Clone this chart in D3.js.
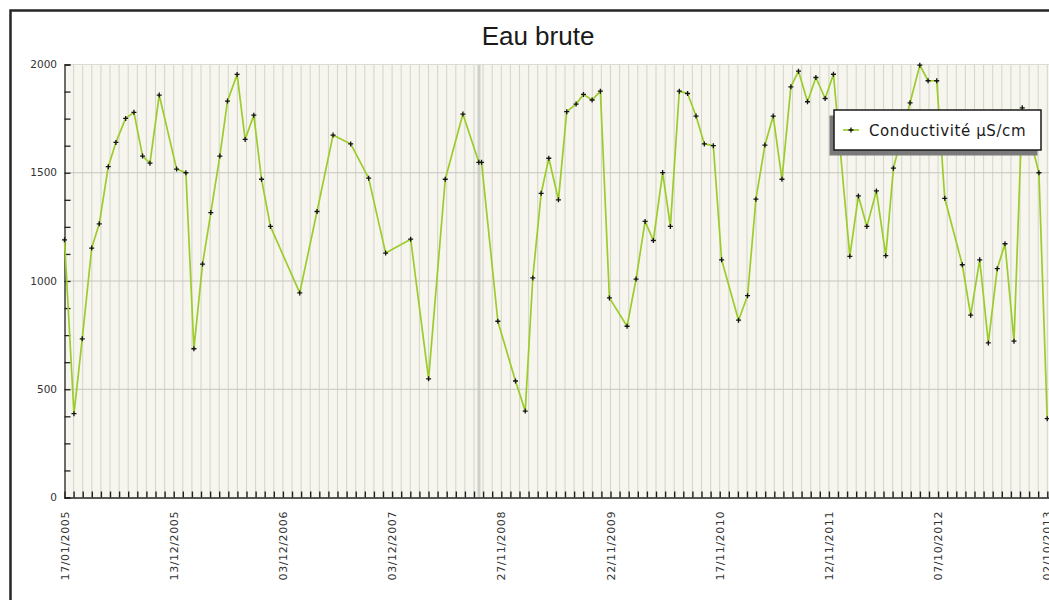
<!DOCTYPE html>
<html>
<head>
<meta charset="utf-8">
<script src="https://cdn.jsdelivr.net/npm/d3@7"></script>
<style>
  html, body { margin: 0; padding: 0; background: #ffffff; overflow: hidden; }
  svg { display: block; }
</style>
</head>
<body>
<svg id="chart" width="1049" height="600"></svg>
<script>
// ---- data -------------------------------------------------------------
const chartTitle = "Eau brute";
const seriesName = "Conductivité µS/cm";

// time of each sample, in months since the first sample (17/01/2005)
const sampleMonth = [
  0.00, 1.04, 1.95, 2.99, 3.82, 4.81, 5.65, 6.72, 7.63, 8.58, 9.39, 10.41,
  12.32, 13.34, 14.22, 15.17, 16.08, 17.07, 17.91, 18.97, 19.85, 20.80, 21.65, 22.63,
  25.85, 27.75, 29.51, 31.45, 33.42, 35.29, 38.04, 40.01, 41.84, 43.78, 45.53, 45.83,
  47.62, 49.56, 50.63, 51.46, 52.38, 53.22, 54.28, 55.19, 56.22, 57.03, 57.98, 58.89,
  59.88, 61.82, 62.81, 63.80, 64.71, 65.73, 66.58, 67.56, 68.47, 69.40, 70.31, 71.30,
  72.21, 74.07, 75.06, 75.98, 76.97, 77.88, 78.84, 79.82, 80.66, 81.65, 82.57, 83.59,
  84.50, 86.30, 87.24, 88.17, 89.22, 90.25, 91.09, 92.92, 93.99, 94.90, 95.85, 96.73,
  98.66, 99.58, 100.57, 101.52, 102.50, 103.35, 104.34, 105.25, 107.08, 107.99
];

// conductivity (µS/cm) of each sample
const conductivity = [
  1190, 387, 733, 1152, 1264, 1528, 1640, 1751, 1779, 1577, 1544, 1859,
  1517, 1500, 687, 1078, 1316, 1577, 1831, 1954, 1654, 1766, 1470, 1252,
  945, 1321, 1674, 1633, 1475, 1129, 1193, 548, 1470, 1771, 1548, 1548,
  814, 538, 399, 1014, 1405, 1567, 1375, 1782, 1817, 1862, 1836, 1877,
  922, 791, 1009, 1275, 1187, 1501, 1252, 1877, 1866, 1762, 1633, 1625,
  1098, 819, 932, 1378, 1628, 1762, 1470, 1897, 1969, 1828, 1940, 1843,
  1955, 1114, 1393, 1252, 1416, 1117, 1521, 1823, 1997, 1925, 1925, 1382,
  1075, 842, 1098, 714, 1057, 1172, 722, 1800, 1500, 364
];

// date labels written under every 12th monthly tick
const dateLabels = [
  "17/01/2005", "13/12/2005", "03/12/2006", "03/12/2007", "27/11/2008",
  "22/11/2009", "17/11/2010", "12/11/2011", "07/10/2012", "02/10/2013"
];
const monthsPerLabel = 12;
const monthCount = 109.5;

// value axis
const yDomain = [0, 2000];
const yLabelValues = [0, 500, 1000, 1500, 2000];
const yMinorStep = 125;

// month at which the double sample sits (drawn as a heavier rule)
const heavyRuleMonths = [45.55];

// ---- layout -----------------------------------------------------------
const plot = { left: 64.5, top: 64.5, bottom: 497.5, monthWidth: 9.1 };
const svg = d3.select("#chart");

const x = d3.scaleLinear()
  .domain([0, monthCount])
  .range([plot.left, plot.left + monthCount * plot.monthWidth]);
const y = d3.scaleLinear().domain(yDomain).range([plot.bottom, plot.top]);

const plotRight = x(monthCount);

// outer frame of the chart
svg.append("rect")
  .attr("x", 10.5).attr("y", 10.5)
  .attr("width", 1080).attr("height", 640)
  .attr("fill", "#ffffff")
  .attr("stroke", "#262626").attr("stroke-width", 2.5);

// title
svg.append("text")
  .attr("x", 538).attr("y", 45)
  .attr("text-anchor", "middle")
  .attr("font-family", "Liberation Sans, Arial, sans-serif")
  .attr("font-size", 26)
  .attr("fill", "#1a1a1a")
  .text(chartTitle);

// plot background
svg.append("rect")
  .attr("x", plot.left).attr("y", plot.top)
  .attr("width", plotRight - plot.left)
  .attr("height", plot.bottom - plot.top)
  .attr("fill", "#f6f6ef");

// vertical monthly grid
const monthTicks = d3.range(1, Math.floor(monthCount) + 1);
svg.append("g")
  .selectAll("line")
  .data(monthTicks)
  .join("line")
  .attr("x1", d => x(d)).attr("x2", d => x(d))
  .attr("y1", plot.top).attr("y2", plot.bottom)
  .attr("stroke", "#d6d6cf").attr("stroke-width", 1.1);

svg.append("g")
  .selectAll("line")
  .data(heavyRuleMonths)
  .join("line")
  .attr("x1", d => x(d)).attr("x2", d => x(d))
  .attr("y1", plot.top).attr("y2", plot.bottom)
  .attr("stroke", "#cfcfcb").attr("stroke-width", 3);

// horizontal grid
svg.append("g")
  .selectAll("line")
  .data(yLabelValues.filter(v => v > 0))
  .join("line")
  .attr("x1", plot.left).attr("x2", plotRight)
  .attr("y1", d => y(d)).attr("y2", d => y(d))
  .attr("stroke", d => d === yDomain[1] ? "#dcdcd6" : "#c6c6c0")
  .attr("stroke-width", 1.2);

// y axis: line, inward ticks every 125, labels every 500
const yAxis = d3.axisRight(y)
  .tickValues(d3.range(yDomain[0], yDomain[1] + 1, yMinorStep))
  .tickSize(6)
  .tickFormat("");
const yg = svg.append("g").attr("transform", `translate(${plot.left},0)`).call(yAxis);
yg.select(".domain").attr("stroke", "#222").attr("stroke-width", 1.3);
yg.selectAll(".tick line").attr("stroke", "#222").attr("stroke-width", 1.3);

svg.append("g")
  .selectAll("text")
  .data(yLabelValues)
  .join("text")
  .attr("x", 57)
  .attr("y", d => y(d) + 3.5)
  .attr("text-anchor", "end")
  .attr("font-family", "DejaVu Sans, sans-serif")
  .attr("font-size", 10.5)
  .attr("fill", "#333")
  .text(d => d);

// x axis: line, inward tick on every month
const xAxis = d3.axisTop(x)
  .tickValues(monthTicks)
  .tickSize(6)
  .tickFormat("");
const xg = svg.append("g").attr("transform", `translate(0,${plot.bottom})`).call(xAxis);
xg.select(".domain").attr("stroke", "#222").attr("stroke-width", 1.3);
xg.selectAll(".tick line").attr("stroke", "#1e1e1e").attr("stroke-width", 1.4);

// rotated date labels
svg.append("g")
  .selectAll("text")
  .data(dateLabels)
  .join("text")
  .attr("transform", (d, i) => `translate(${x(i * monthsPerLabel) + 4},511) rotate(-90)`)
  .attr("text-anchor", "end")
  .attr("font-family", "DejaVu Sans, sans-serif")
  .attr("font-size", 11)
  .attr("letter-spacing", 0.6)
  .attr("fill", "#333")
  .text(d => d);

// conductivity series
const points = sampleMonth.map((m, i) => ({ m, v: conductivity[i] }));
const line = d3.line().x(d => x(d.m)).y(d => y(d.v));

svg.append("path")
  .datum(points)
  .attr("d", line)
  .attr("fill", "none")
  .attr("stroke", "#9ccc2c")
  .attr("stroke-width", 1.7)
  .attr("stroke-linejoin", "round");

const cross = d3.symbol().type(d3.symbolCross).size(14);
svg.append("g")
  .selectAll("path")
  .data(points)
  .join("path")
  .attr("transform", d => `translate(${x(d.m)},${y(d.v)})`)
  .attr("d", "M-2.5,0H2.5M0,-2.5V2.5")
  .attr("stroke", "#141414")
  .attr("stroke-width", 1.3)
  .attr("fill", "none");

// legend
const lg = svg.append("g").attr("transform", "translate(834,110)");
lg.append("rect")
  .attr("x", -4.5).attr("y", 5.5).attr("width", 208).attr("height", 40)
  .attr("fill", "#7a7a7a");
lg.append("rect")
  .attr("x", 0).attr("y", 0).attr("width", 207).attr("height", 40)
  .attr("fill", "#ffffff")
  .attr("stroke", "#1a1a1a").attr("stroke-width", 1.5);
lg.append("line")
  .attr("x1", 9).attr("x2", 25).attr("y1", 20).attr("y2", 20)
  .attr("stroke", "#9ccc2c").attr("stroke-width", 1.7);
lg.append("path")
  .attr("transform", "translate(17,20)")
  .attr("d", "M-2.5,0H2.5M0,-2.5V2.5")
  .attr("stroke", "#141414").attr("stroke-width", 1.3);
lg.append("text")
  .attr("x", 35).attr("y", 25.5)
  .attr("font-family", "DejaVu Sans, sans-serif")
  .attr("font-size", 15)
  .attr("letter-spacing", 0.6)
  .attr("fill", "#1a1a1a")
  .text(seriesName);
</script>
</body>
</html>
